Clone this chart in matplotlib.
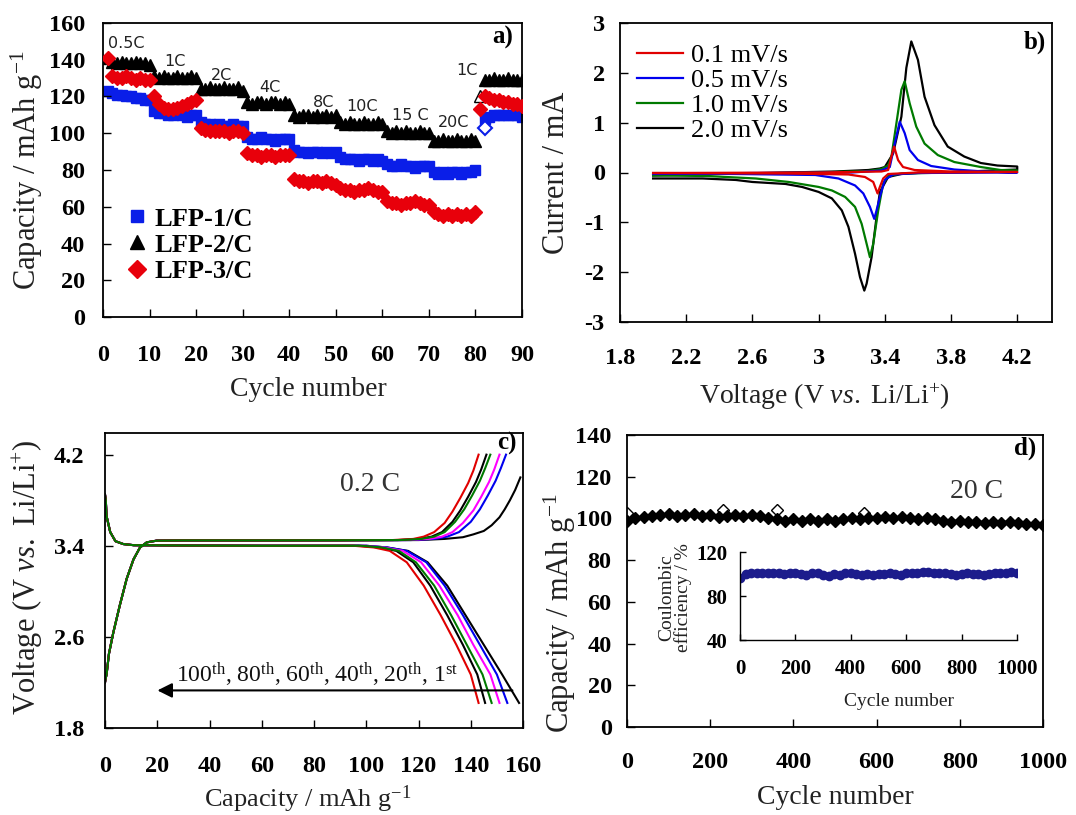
import matplotlib
matplotlib.use('Agg')
import matplotlib.pyplot as plt
from matplotlib.lines import Line2D

plt.rcParams['font.family'] = ['Liberation Serif', 'DejaVu Serif']
plt.rcParams['mathtext.fontset'] = 'custom'
plt.rcParams['mathtext.rm'] = 'Liberation Serif'
plt.rcParams['mathtext.it'] = 'Liberation Serif:italic'
plt.rcParams['mathtext.bf'] = 'Liberation Serif:bold'
plt.rcParams['axes.unicode_minus'] = False

# ---------------- Panel a data ----------------
cycles_a = list(range(1, 91))
lfp1 = [123, 122, 121, 121, 120, 120, 119, 119, 118, 118,
        112, 111, 111, 110, 110, 111, 110, 109, 110, 110,
        106, 105, 105, 104, 105, 104, 104, 105, 104, 104,
        98, 97, 97, 98, 97, 97, 96, 97, 97, 97,
        91, 90, 90, 89, 90, 90, 89, 90, 89, 90,
        87, 86, 86, 86, 85, 86, 86, 85, 86, 85,
        83, 82, 82, 83, 82, 82, 81, 82, 82, 82,
        79, 78, 79, 78, 79, 79, 78, 79, 79, 80,
        103, 108, 109, 110, 110, 110, 110, 110, 110, 109]
lfp2 = [141, 139, 138, 139, 138, 138, 139, 138, 138, 137,
        131, 130, 131, 130, 130, 131, 130, 130, 131, 130,
        124, 124, 125, 124, 124, 125, 124, 124, 125, 123,
        117, 116, 117, 117, 116, 117, 117, 116, 117, 116,
        110, 109, 110, 110, 109, 110, 109, 110, 109, 110,
        106, 105, 106, 105, 105, 106, 105, 105, 106, 105,
        101, 100, 101, 100, 101, 100, 100, 101, 100, 100,
        96, 96, 97, 96, 96, 97, 96, 96, 97, 96,
        120, 129, 129, 130, 129, 129, 130, 129, 129, 129]
lfp3 = [141, 131, 130, 130, 131, 130, 129, 130, 129, 129,
        120, 116, 114, 113, 113, 114, 115, 116, 117, 118,
        103, 102, 101, 101, 101, 101, 100, 101, 101, 100,
        89, 88, 88, 87, 88, 88, 87, 88, 88, 88,
        75, 74, 74, 73, 74, 74, 73, 74, 73, 72,
        70, 69, 69, 68, 69, 69, 70, 69, 68, 68,
        63, 62, 62, 61, 62, 62, 63, 62, 61, 61,
        57, 56, 55, 56, 55, 56, 55, 56, 55, 57,
        113, 120, 119, 118, 118, 117, 117, 116, 116, 115]
hollow_idx = 80
rate_labels = ['0.5C', '1C', '2C', '4C', '8C', '10C', '15 C', '20C', '1C']
rate_label_x = [5.1, 15.5, 25.5, 35.9, 47.3, 55.6, 66.0, 75.2, 78.1]
rate_label_y = [149, 139, 131.7, 125, 117, 114.5, 109.4, 106, 134.4]
a_xticks = [0, 10, 20, 30, 40, 50, 60, 70, 80, 90]
a_yticks = [0, 20, 40, 60, 80, 100, 120, 140, 160]

# ---------------- Panel b data (CV) ----------------
scan_labels = ['0.1 mV/s', '0.5 mV/s', '1.0 mV/s', '2.0 mV/s']
scan_colors = ['#e00000', '#0000ee', '#007a00', '#000000']
v01_an = [2.0, 3.0, 3.38, 3.42, 3.44, 3.456, 3.48, 3.51, 3.58, 3.8, 4.2]
i01_an = [-0.01, 0.0, 0.02, 0.05, 0.32, 0.52, 0.25, 0.11, 0.05, 0.02, 0.01]
v01_ca = [4.2, 3.6, 3.42, 3.39, 3.37, 3.356, 3.33, 3.28, 3.18, 2.8, 2.0]
i01_ca = [0.01, 0.0, -0.03, -0.12, -0.29, -0.42, -0.19, -0.09, -0.04, -0.02, -0.01]
v05_an = [2.0, 2.6, 3.2, 3.38, 3.43, 3.46, 3.49, 3.52, 3.55, 3.60, 3.68, 3.82, 4.0, 4.2]
i05_an = [-0.03, -0.01, 0.0, 0.04, 0.11, 0.58, 1.02, 0.79, 0.45, 0.25, 0.13, 0.06, 0.02, 0.0]
v05_ca = [4.2, 3.6, 3.45, 3.40, 3.37, 3.35, 3.336, 3.31, 3.27, 3.22, 3.12, 2.98, 2.5, 2.0]
i05_ca = [0.0, -0.01, -0.04, -0.15, -0.49, -0.76, -0.93, -0.69, -0.42, -0.26, -0.12, -0.05, -0.03, -0.02]
v10_an = [2.0, 2.5, 3.0, 3.3, 3.38, 3.42, 3.44, 3.47, 3.50, 3.52, 3.55, 3.59, 3.64, 3.72, 3.82, 3.98, 4.1, 4.2]
i10_an = [-0.05, -0.02, 0.0, 0.03, 0.07, 0.14, 0.32, 0.99, 1.66, 1.83, 1.39, 0.92, 0.58, 0.35, 0.21, 0.11, 0.05, 0.04]
v10_ca = [4.2, 3.8, 3.5, 3.42, 3.39, 3.36, 3.33, 3.31, 3.29, 3.26, 3.22, 3.16, 3.08, 3.0, 2.82, 2.62, 2.32, 2.0]
i10_ca = [0.03, 0.0, -0.02, -0.07, -0.22, -0.76, -1.43, -1.70, -1.43, -1.03, -0.69, -0.49, -0.36, -0.29, -0.19, -0.12, -0.07, -0.06]
v20_an = [2.0, 2.4, 2.8, 3.1, 3.3, 3.37, 3.40, 3.45, 3.50, 3.53, 3.56, 3.60, 3.64, 3.70, 3.78, 3.88, 3.98, 4.08, 4.2]
i20_an = [-0.06, -0.03, 0.0, 0.02, 0.05, 0.08, 0.11, 0.38, 1.12, 2.1, 2.63, 2.26, 1.52, 0.95, 0.52, 0.32, 0.19, 0.14, 0.12]
v20_ca = [4.2, 3.9, 3.6, 3.5, 3.42, 3.37, 3.35, 3.32, 3.29, 3.276, 3.25, 3.22, 3.18, 3.14, 3.08, 3.0, 2.9, 2.8, 2.6, 2.5, 2.3, 2.0]
i20_ca = [0.06, 0.02, -0.01, -0.03, -0.09, -0.39, -0.89, -1.70, -2.23, -2.37, -2.10, -1.63, -1.09, -0.76, -0.52, -0.39, -0.29, -0.23, -0.19, -0.15, -0.12, -0.12]
b_xticks = [1.8, 2.2, 2.6, 3.0, 3.4, 3.8, 4.2]
b_xticklabels = ['1.8', '2.2', '2.6', '3', '3.4', '3.8', '4.2']
b_yticks = [-3, -2, -1, 0, 1, 2, 3]

# ---------------- Panel c data (charge/discharge) ----------------
chg_start_cap = [0, 0.3, 0.6, 1.5, 3.2, 5.7, 8.3, 10.9, 13.4, 16, 19.8, 30, 60, 90]
chg_start_v = [2.2, 2.24, 2.27, 2.45, 2.64, 2.88, 3.11, 3.28, 3.385, 3.43, 3.445, 3.447, 3.447, 3.448]
dis_start_cap = [0, 0.3, 0.6, 2, 4, 7, 11, 30, 60, 90]
dis_start_v = [3.85, 3.80, 3.66, 3.52, 3.44, 3.415, 3.405, 3.402, 3.40, 3.40]
c_cycle_names = ['1st', '20th', '40th', '60th', '80th', '100th']
c_colors = ['#000000', '#0000ee', '#ff00ff', '#007a00', '#000000', '#e00000']
chg_tail_v = {
    '100th': [3.45, 3.46, 3.48, 3.52, 3.60, 3.70, 3.82, 3.95, 4.06, 4.2],
    '80th': [3.45, 3.46, 3.48, 3.52, 3.61, 3.71, 3.83, 3.96, 4.07, 4.2],
    '60th': [3.45, 3.46, 3.48, 3.52, 3.61, 3.72, 3.84, 3.97, 4.08, 4.2],
    '40th': [3.45, 3.46, 3.48, 3.52, 3.60, 3.71, 3.83, 3.96, 4.07, 4.2],
    '20th': [3.45, 3.46, 3.48, 3.52, 3.61, 3.72, 3.84, 3.97, 4.08, 4.2],
    '1st': [3.45, 3.46, 3.475, 3.50, 3.53, 3.58, 3.65, 3.72, 3.80, 3.89, 4.0],
}
chg_tail_cap = {
    '100th': [110, 118, 122, 126, 130, 133, 136, 139, 141, 143],
    '80th': [112, 120, 125, 129, 133, 136, 139, 142, 144, 146],
    '60th': [113, 121, 126, 130, 134, 137.5, 140.5, 143.5, 145.5, 147.5],
    '40th': [115, 124, 129, 133, 137, 141, 144, 147, 149, 151],
    '20th': [117, 126, 131, 135.5, 140, 143.5, 146.5, 149.5, 151.5, 153.5],
    '1st': [120, 130, 137, 141, 145, 148, 151, 153, 155, 157, 159],
}
dis_tail_v = [3.40, 3.385, 3.355, 3.255, 3.05, 2.79, 2.53, 2.27, 2.02]
dis_tail_cap = {
    '100th': [95, 103, 109, 115.5, 122, 128.5, 134.5, 140, 143],
    '80th': [97, 105, 111.5, 118, 124.5, 131, 137, 142.5, 145.5],
    '60th': [98, 106, 112.5, 119, 126, 132.5, 138.5, 144.5, 148],
    '40th': [99, 107, 114, 121, 128, 135, 141, 147.5, 151],
    '20th': [100, 108, 115.5, 123, 130, 137, 143.5, 150, 154],
    '1st': [100, 108, 116, 123.5, 131, 138, 145, 152, 158.5],
}
c_xticks = [0, 20, 40, 60, 80, 100, 120, 140, 160]
c_yticks = [1.8, 2.6, 3.4, 4.2]

# ---------------- Panel d data ----------------
d_cycles = list(range(0, 1001, 20))
d_capacity = [99, 100, 100.5, 101, 101.5, 102, 101, 101.5, 102, 101,
              101.5, 100.5, 101, 101.5, 101, 101.5, 101, 100, 99.5, 99,
              99.5, 99, 99.5, 99, 99.5, 99, 99.5, 100, 99.5, 100,
              100, 100.5, 100, 100.5, 100, 99.5, 100, 99.5, 99, 98.5,
              99, 98.5, 98.5, 98, 98.5, 98, 98.5, 98, 97.5, 97.5, 97]
d_hollow_cycles = [0, 230, 360, 570]
d_hollow_capacity = [102.5, 104, 104, 102.5]
ce_values = [96, 100, 101, 101, 100.5, 101, 100.5, 101, 100, 100.5,
             101, 100, 99.5, 101, 100.5, 99, 98.5, 100, 99.5, 101,
             100.5, 100, 99.5, 100, 99.5, 100, 100, 100.5, 100, 99.5,
             101, 100.5, 101, 102, 101.5, 101, 100.5, 101, 100, 99.5,
             100, 100.5, 100, 100, 99.5, 100, 100.5, 101, 101, 101.5, 100.5]
d_xticks = [0, 200, 400, 600, 800, 1000]
d_yticks = [0, 20, 40, 60, 80, 100, 120, 140]
in_yticks = [40, 80, 120]

# ---------------- Figure ----------------
W, H = 1076, 815
fig = plt.figure(figsize=(W / 100, H / 100), dpi=100)


def px_axes(l, t, r, b):
    return fig.add_axes([l / W, 1 - b / H, (r - l) / W, (b - t) / H])


ax_a = px_axes(103, 23, 522, 317)
ax_b = px_axes(620, 23, 1052, 322)
ax_c = px_axes(105, 433, 523, 728)
ax_d = px_axes(627, 435, 1043, 727)
ax_in = px_axes(740, 552, 1017, 640)

TICK = 17.5
BOLD = 'bold'


def style(ax, xpad, ypad, size=TICK):
    for s in ax.spines.values():
        s.set_linewidth(1.3)
    ax.tick_params(direction='in', length=6, width=1.0, top=False, right=False)
    ax.tick_params(axis='x', pad=xpad, labelsize=size)
    ax.tick_params(axis='y', pad=ypad, labelsize=size)
    for lab in ax.get_xticklabels() + ax.get_yticklabels():
        lab.set_fontweight(BOLD)


def label(ax, xl, yl, xpos, ypos, size_x=20, size_y=22):
    ax.set_xlabel(xl, fontsize=size_x, color='#222222')
    ax.set_ylabel(yl, fontsize=size_y, color='#222222')
    ax.xaxis.set_label_coords(*xpos)
    ax.yaxis.set_label_coords(*ypos)
    ax.xaxis.label.set_va('center')
    ax.yaxis.label.set_va('center')


# ---- Panel a ----
cyc_f = cycles_a[:hollow_idx] + cycles_a[hollow_idx + 1:]
ax_a.plot(cycles_a, lfp3, 'D', color='#e8000b', ms=7.5, mec='#e8000b', ls='none', zorder=3)
ax_a.plot(cyc_f, lfp2[:hollow_idx] + lfp2[hollow_idx + 1:], '^', color='black', ms=8, ls='none', zorder=2)
ax_a.plot([cycles_a[hollow_idx]], [lfp2[hollow_idx]], '^', mfc='white', mec='black', ms=8, ls='none', zorder=2)
ax_a.plot(cyc_f, lfp1[:hollow_idx] + lfp1[hollow_idx + 1:], 's', color='#0a1ee8', ms=7, ls='none', zorder=1)
ax_a.plot([cycles_a[hollow_idx] + 1], [lfp1[hollow_idx]], 'D', mfc='white', mec='#0a1ee8', mew=1.5, ms=7, ls='none', zorder=4)
ax_a.set_xlim(0, 90)
ax_a.set_ylim(0, 160)
ax_a.set_xticks(a_xticks)
ax_a.set_yticks(a_yticks)
for t, x, y in zip(rate_labels, rate_label_x, rate_label_y):
    ax_a.text(x, y, t, ha='center', va='center', fontsize=11.5, family='DejaVu Sans', color='#222222')
ax_a.text(0.955, 0.952, 'a)', transform=ax_a.transAxes, ha='center', va='center', fontsize=18, fontweight='bold')
handles_a = [Line2D([], [], marker='s', color='#0a1ee8', ls='none', ms=9),
             Line2D([], [], marker='^', color='black', ls='none', ms=10),
             Line2D([], [], marker='D', color='#e8000b', ls='none', ms=9)]
ax_a.legend(handles_a, ['LFP-1/C', 'LFP-2/C', 'LFP-3/C'], loc='upper left',
            bbox_to_anchor=(0.06, 0.374), frameon=False, borderpad=0, borderaxespad=0,
            handlelength=0.7, handletextpad=0.3, labelspacing=0.1,
            prop={'family': 'Liberation Serif', 'weight': 'bold', 'size': 19})
style(ax_a, 20, 13)
label(ax_a, 'Cycle number', 'Capacity / mAh g$^{-1}$', (0.489, -0.248), (-0.181, 0.50))

# ---- Panel b ----
cv_data = [(v01_an + v01_ca, i01_an + i01_ca),
           (v05_an + v05_ca, i05_an + i05_ca),
           (v10_an + v10_ca, i10_an + i10_ca),
           (v20_an + v20_ca, i20_an + i20_ca)]
lines_b = []
for (v, i), c, lab in list(zip(cv_data, scan_colors, scan_labels))[::-1]:
    ln, = ax_b.plot(v, i, color=c, lw=1.6, label=lab)
    lines_b.append(ln)
lines_b = lines_b[::-1]
ax_b.set_xlim(1.8, 4.41)
ax_b.set_ylim(-3, 3)
ax_b.set_xticks(b_xticks)
ax_b.set_xticklabels(b_xticklabels)
ax_b.set_yticks(b_yticks)
ax_b.legend(lines_b, scan_labels, loc='upper left', bbox_to_anchor=(0.04, 0.93),
            frameon=False, borderpad=0, borderaxespad=0, handlelength=1.75,
            handletextpad=0.3, labelspacing=0.05, fontsize=19)
ax_b.text(0.961, 0.936, 'b)', transform=ax_b.transAxes, ha='center', va='center', fontsize=18, fontweight='bold')
style(ax_b, 19, 11)
label(ax_b, 'Voltage (V $\\it{vs.}$ Li/Li$^{+}$)', 'Current / mA', (0.474, -0.251), (-0.148, 0.50))

# ---- Panel c ----
order = ['1st', '20th', '40th', '80th', '100th', '60th']
col_map = dict(zip(c_cycle_names, c_colors))
for name in order:
    ax_c.plot(chg_start_cap + chg_tail_cap[name], chg_start_v + chg_tail_v[name], color=col_map[name], lw=1.5)
    ax_c.plot(dis_start_cap + dis_tail_cap[name], dis_start_v + dis_tail_v, color=col_map[name], lw=1.5)
ax_c.set_xlim(0, 160)
ax_c.set_ylim(1.8, 4.39)
ax_c.set_xticks(c_xticks)
ax_c.set_yticks(c_yticks)
ax_c.text(101.5, 3.94, '0.2 C', ha='center', va='center', fontsize=20, color='#333333')
ax_c.annotate('', xy=(19, 2.13), xytext=(157, 2.13),
              arrowprops=dict(arrowstyle='-|>', color='black', lw=1.5, mutation_scale=22))
ax_c.text(81, 2.27, '100$^{\\rm th}$, 80$^{\\rm th}$, 60$^{\\rm th}$, 40$^{\\rm th}$, 20$^{\\rm th}$, 1$^{\\rm st}$',
          ha='center', va='center', fontsize=17, color='#111111')
ax_c.text(0.962, 0.966, 'c)', transform=ax_c.transAxes, ha='center', va='center', fontsize=18, fontweight='bold')
style(ax_c, 20, 15)
label(ax_c, 'Capacity / mAh g$^{-1}$', 'Voltage (V $\\it{vs.}$ Li/Li$^{+}$)', (0.486, -0.24), (-0.184, 0.512),
      size_x=19)

# ---- Panel d ----
ax_d.plot(d_cycles, d_capacity, color='black', lw=2, marker='D', ms=6, zorder=3)
ax_d.plot(d_hollow_cycles, d_hollow_capacity, 'D', mfc='white', mec='black', ms=6, ls='none', zorder=2)
ax_d.set_xlim(0, 1000)
ax_d.set_ylim(0, 140)
ax_d.set_xticks(d_xticks)
ax_d.set_yticks(d_yticks)
ax_d.text(841, 112.7, '20 C', ha='center', va='center', fontsize=20, color='#333333')
ax_d.text(0.957, 0.955, 'd)', transform=ax_d.transAxes, ha='center', va='center', fontsize=18, fontweight='bold')
style(ax_d, 18, 11)
label(ax_d, 'Cycle number', 'Capacity / mAh g$^{-1}$', (0.502, -0.24), (-0.161, 0.39))

# ---- Inset ----
ax_in.plot(d_cycles, ce_values, color='#1c1c8c', lw=2, marker='o', ms=6)
ax_in.set_xlim(0, 1000)
ax_in.set_ylim(40, 120)
ax_in.set_xticks(d_xticks)
ax_in.set_yticks(in_yticks)
ax_in.spines['top'].set_visible(False)
ax_in.spines['right'].set_visible(False)
ax_in.patch.set_alpha(0)
style(ax_in, 14, 9, size=15)
for s in ax_in.spines.values():
    s.set_linewidth(1.0)
ax_in.tick_params(length=4)
ax_in.set_xlabel('Cycle number', fontsize=14, color='#222222')
ax_in.set_ylabel('Coulombic\nefficiency / %', fontsize=14, color='#222222', linespacing=0.9)
ax_in.xaxis.set_label_coords(0.574, -0.70)
ax_in.yaxis.set_label_coords(-0.235, 0.477)
ax_in.xaxis.label.set_va('center')
ax_in.yaxis.label.set_va('center')

fig.savefig('out.png', dpi=100)
